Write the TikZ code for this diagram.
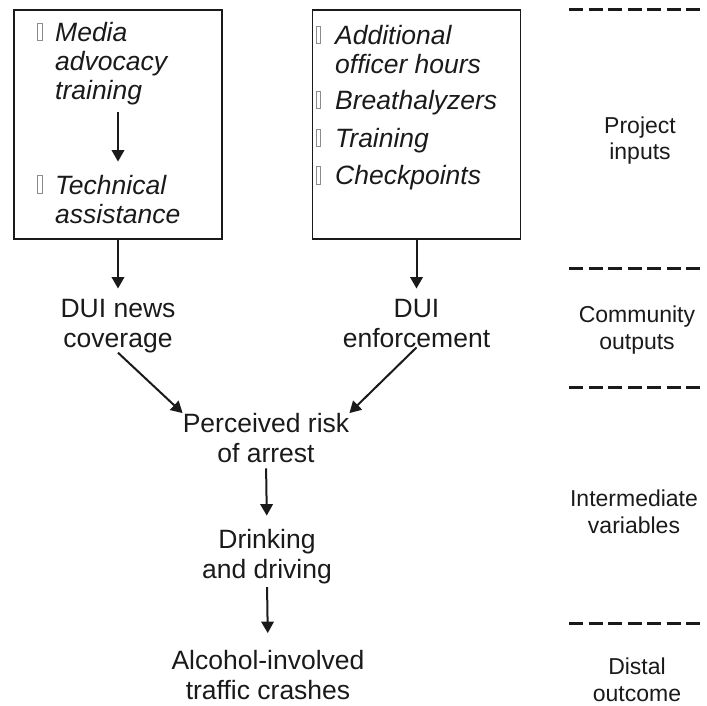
\documentclass[tikz,border=0pt]{standalone}
\usepackage{fontspec}
\setmainfont{Liberation Sans}
\usetikzlibrary{arrows.meta,positioning}
\definecolor{ink}{HTML}{1A1A1A}
\definecolor{glyph}{HTML}{8C8C8C}

\begin{document}
\begin{tikzpicture}[x=1pt,y=-1pt,
  stage/.style={draw=ink,line width=1.8pt,minimum width=208pt,minimum height=229pt,inner sep=0pt},
  item/.style={font=\itshape\fontsize{26.5}{29}\selectfont,text=ink,align=left,inner sep=0pt,anchor=base west},
  tofubox/.style={draw=glyph,line width=0.5pt,minimum width=4.5pt,minimum height=17pt,inner sep=0pt,anchor=south},
  var/.style={font=\fontsize{26.5}{29.5}\selectfont,text=ink,align=center,inner sep=0pt,anchor=base},
  band/.style={font=\fontsize{23}{26.5}\selectfont,text=ink,align=center,inner sep=0pt,anchor=base},
  flow/.style={-{Triangle[length=11.5pt,width=12.5pt]},draw=ink,line width=2pt},
  sep/.style={draw=ink,line width=3pt,dash pattern=on 14.3pt off 5.2pt}]
\useasboundingbox (0,0) rectangle (707,706);
% input boxes
\node[stage] (lbox) at (118,124.5) {};
\node[stage] (rbox) at (416.5,124.5) {};
\node[item] (media) at (55,100) {Media\\advocacy\\training};
\node[item] (tech) at (55,223) {Technical\\assistance};
\node[tofubox] (b1) at (39.5,41) {};
\node[tofubox] (b2) at (39.5,193) {};
\node[item] (hours) at (335,74) {Additional\\officer hours};
\node[item] (breath) at (335,110) {Breathalyzers};
\node[item] (train) at (335,148) {Training};
\node[item] (check) at (335,185) {Checkpoints};
\node[tofubox] (b3) at (318,44) {};
\node[tofubox] (b4) at (318,109) {};
\node[tofubox] (b5) at (318,147) {};
\node[tofubox] (b6) at (318,184) {};
\draw[flow,shorten <=6pt,shorten >=13pt] (lbox.center |- media.south) -- (lbox.center |- tech.north);
% chain
\node[var] (news) at (118,347) {DUI news\\coverage};
\node[var] (enforce) at (416.5,347) {DUI\\enforcement};
\node[var] (risk) at (266,462) {Perceived risk\\of arrest};
\node[var] (drink) at (267,578) {Drinking\\and driving};
\node[var] (crash) at (268,699) {Alcohol-involved\\traffic crashes};
\draw[flow,shorten >=10.5pt] (lbox.south) -- (news.north);
\draw[flow,shorten >=10.5pt] (rbox.south) -- (enforce.north);
\draw[flow] (news.south) -- (risk.north west);
\draw[flow] (enforce.south) -- (risk.north east);
\draw[flow,shorten <=6pt,shorten >=13.5pt] (risk.south) -- (drink.north);
\draw[flow,shorten <=3.5pt,shorten >=17pt] (drink.south) -- (crash.north);
% levels
\draw[sep] (569,10) -- (700.5,10);
\draw[sep] (569,268) -- (700.5,268);
\draw[sep] (569,387) -- (700.5,387);
\draw[sep] (569,623) -- (700.5,623);
\node[band] (inputs) at (640,160) {Project\\inputs};
\node[band] (outputs) at (637,349) {Community\\outputs};
\node[band] (inter) at (634,533) {Intermediate\\variables};
\node[band] (distal) at (637,701) {Distal\\outcome};
\end{tikzpicture}
\end{document}
